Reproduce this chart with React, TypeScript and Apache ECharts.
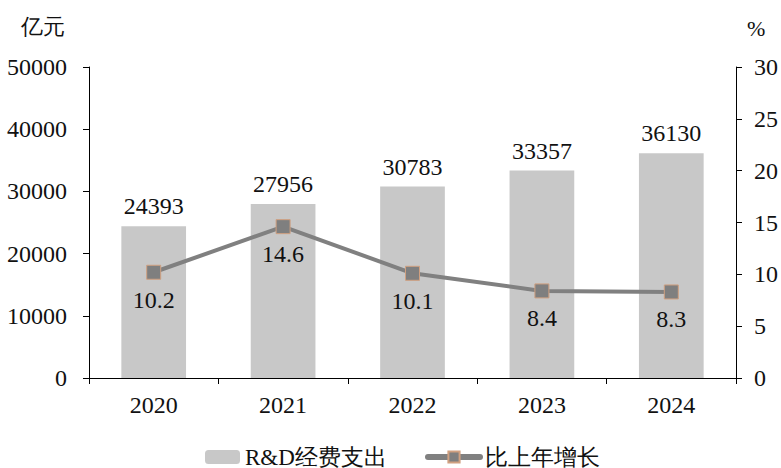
import React, { useEffect, useRef } from "react";
import * as echarts from "echarts";

const years = ["2020", "2021", "2022", "2023", "2024"];
const spending = [24393, 27956, 30783, 33357, 36130];
const growth = [10.2, 14.6, 10.1, 8.4, 8.3];
const FONT = "Times New Roman";

export default function App() {
  const ref = useRef<HTMLDivElement>(null);
  useEffect(() => {
    const chart = echarts.init(ref.current!, undefined, { renderer: "svg" });
    chart.setOption({
      animation: false,
      textStyle: { fontFamily: FONT },
      grid: { left: 89, right: 45, top: 67, bottom: 90 },
      graphic: [
        { type: "text", left: 21, top: 15, style: { text: "亿元", fontSize: 22, fontFamily: FONT, fill: "#111" } },
        { type: "text", left: 747, top: 17, style: { text: "%", fontSize: 22, fontFamily: FONT, fill: "#111" } },
      ],
      legend: [
        {
          data: ["R&D经费支出"],
          left: 200,
          top: 440,
          itemWidth: 35,
          itemHeight: 14,
          itemGap: 5,
          textStyle: { fontSize: 23, lineHeight: 24, color: "#111", fontFamily: FONT },
        },
        {
          data: ["比上年增长"],
          left: 420,
          top: 440,
          itemWidth: 52,
          itemHeight: 14,
          itemGap: 5,
          lineStyle: { width: 6 },
          textStyle: { fontSize: 23, lineHeight: 24, color: "#111", fontFamily: FONT },
        },
      ],
      xAxis: {
        type: "category",
        data: years,
        axisLine: { lineStyle: { color: "#000", width: 1 } },
        axisTick: { show: true, length: 6, lineStyle: { color: "#000" } },
        axisLabel: { fontSize: 24, color: "#111", margin: 15, fontFamily: FONT },
      },
      yAxis: [
        {
          type: "value",
          min: 0,
          max: 50000,
          interval: 10000,
          splitLine: { show: false },
          axisLine: { show: true, lineStyle: { color: "#000" } },
          axisTick: { show: true, length: 6, lineStyle: { color: "#000" } },
          axisLabel: { fontSize: 24, color: "#111", margin: 22, fontFamily: FONT, formatter: (v: number) => String(v) },
        },
        {
          type: "value",
          min: 0,
          max: 30,
          interval: 5,
          position: "right",
          splitLine: { show: false },
          axisLine: { show: true, lineStyle: { color: "#000" } },
          axisTick: { show: true, length: 6, lineStyle: { color: "#000" } },
          axisLabel: { fontSize: 24, color: "#111", margin: 18, fontFamily: FONT },
        },
      ],
      series: [
        {
          name: "R&D经费支出",
          type: "bar",
          data: spending,
          barWidth: "50%",
          itemStyle: { color: "#c8c8c8" },
          label: { show: true, position: "top", distance: 8, fontSize: 24, color: "#111", fontFamily: FONT },
        },
        {
          name: "比上年增长",
          type: "line",
          yAxisIndex: 1,
          data: growth,
          symbol: "rect",
          symbolSize: 14,
          lineStyle: { color: "#808080", width: 4, cap: "round" },
          itemStyle: { color: "#7f7f7f", borderColor: "#d0a080", borderWidth: 1 },
          label: { show: true, position: "bottom", distance: 8, fontSize: 24, color: "#111", fontFamily: FONT },
        },
      ],
    });
    return () => chart.dispose();
  }, []);
  return <div ref={ref} style={{ width: 781, height: 468, position: "absolute", left: 0, top: 0 }} />;
}
